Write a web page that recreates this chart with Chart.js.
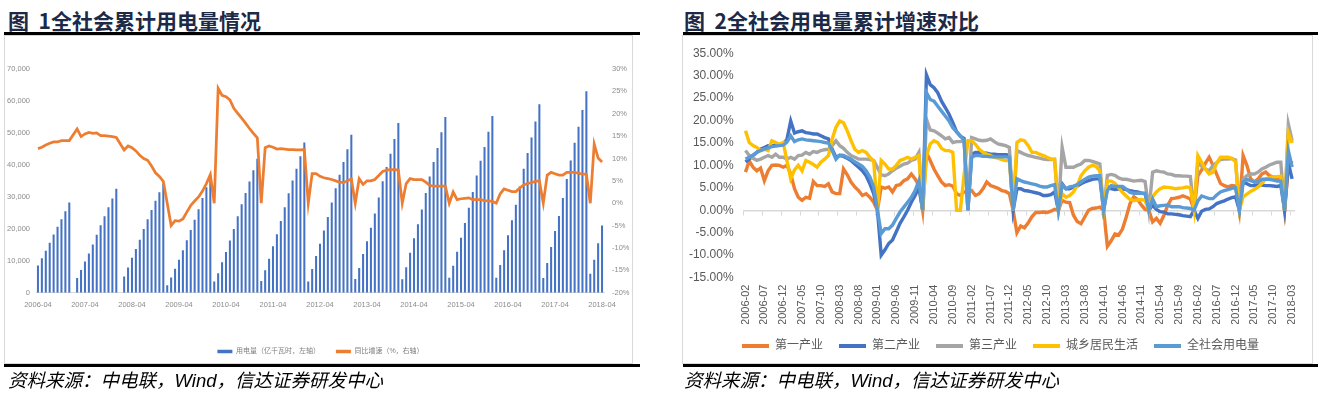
<!DOCTYPE html>
<html>
<head>
<meta charset="utf-8">
<script src="https://cdn.jsdelivr.net/npm/chart.js@4.4.1/dist/chart.umd.min.js"></script>
<style>
  body { margin: 0; width: 1321px; height: 395px; background: #fff; position: relative; overflow: hidden; }
  .title { position: absolute; top: 5px; font-family: "Noto Sans CJK SC", sans-serif; font-weight: 700; font-size: 21px; color: #1c2a48; white-space: nowrap; }
  .rule { position: absolute; height: 3px; background: #000; z-index: 3; }
  .box { position: absolute; border: 1px solid #d9d9d9; box-sizing: border-box; }
  .src { position: absolute; top: 366px; font-family: "Liberation Sans", "Noto Sans CJK SC", sans-serif; font-style: italic; font-size: 18.5px; color: #000; white-space: nowrap; z-index: 3; }
  .wrap { position: absolute; z-index: 2; }
</style>
</head>
<body>
<div class="title" style="left:8px">图&nbsp;&nbsp;1全社会累计用电量情况</div>
<div class="title" style="left:684px">图&nbsp;&nbsp;2全社会用电量累计增速对比</div>
<div class="rule" style="left:4px; width:636px; top:32px"></div>
<div class="rule" style="left:683px; width:635px; top:32px"></div>
<div class="box" style="left:4px; top:35px; width:629px; height:329px"></div>
<div class="box" style="left:682px; top:35px; width:631px; height:329px"></div>
<div class="rule" style="left:4px; width:636px; top:364px"></div>
<div class="rule" style="left:683px; width:635px; top:364px"></div>
<div class="src" style="left:8px">资料来源：中电联，Wind，信达证券研发中心</div>
<div class="src" style="left:684px">资料来源：中电联，Wind，信达证券研发中心</div>

<div class="wrap" style="left:5px; top:38px; width:631px; height:333px"><canvas id="useChart"></canvas></div>
<div class="wrap" style="left:682px; top:36px; width:637px; height:331px"><canvas id="growthChart"></canvas></div>

<script>
// 图1：累计用电量（亿千瓦时）与同比增速（%），2006-04 ~ 2018-04
const usage = [
  8500, 10800, 13100, 15600, 18200, 20600, 23000, 25500, 28200,
  null, 4600, 7100, 9800, 12300, 15100, 18100, 21100, 23900, 26700, 29500, 32500,
  null, 5100, 7900, 10900, 13700, 16600, 19900, 23000, 25900, 28800, 31400, 34200,
  2300, 4750, 7500, 10300, 13300, 16400, 19600, 22800, 26100, 29600, 33000, 36400,
  3500, 6100, 9500, 12700, 16300, 19900, 23900, 27700, 31200, 34800, 38300, 41900,
  3700, 7000, 10600, 14500, 18300, 22400, 26700, 31100, 35100, 38800, 42700, 47000,
  3500, 7400, 11500, 15300, 19500, 23700, 28200, 32700, 36900, 40900, 44900, 49400,
  4300, 7700, 12100, 16100, 20300, 24800, 29800, 34900, 39300, 43500, 48100, 53100,
  4200, 8000, 12500, 17000, 21400, 26000, 31200, 36400, 40900, 45300, 50200, 55000,
  4700, 8400, 12800, 17200, 21800, 26600, 31500, 36700, 41300, 45600, 50400, 55300,
  4700, 8700, 13300, 18000, 22700, 27500, 33200, 38800, 43700, 48600, 53600, 59000,
  4600, 9300, 14300, 19300, 24000, 29600, 35600, 41400, 46900, 51900, 57200, 63000,
  5900, 10300, 15500, 21000
];
const usageGrowth = [
  12.2, 12.5, 13.0, 13.4, 13.7, 13.7, 14.0, 14.0, 14.0,
  null, 16.6, 14.9, 15.5, 15.8, 15.6, 15.7, 15.1, 15.1, 15.0, 14.9, 14.7,
  null, 11.9, 12.8, 12.4, 11.7, 10.7, 10.0, 9.6, 8.3, 6.8, 6.0, 4.9,
  0, -5.0, -3.9, -4.0, -3.5, -2.0, -0.5, 0.5, 1.4, 2.7, 4.4, 6.4,
  0, 25.7, 24.1, 23.8, 23.1, 21.2, 20.1, 19.0, 17.9, 16.7, 15.6, 14.6,
  0, 12.4, 12.8, 12.5, 12.1, 12.2, 12.1, 12.0, 12.0, 11.9, 11.9, 12.0,
  0, 6.6, 6.6, 6.0, 5.7, 5.5, 5.3, 5.0, 4.7, 4.6, 5.0, 5.4,
  0, 5.5, 4.2, 5.0, 5.0, 5.3, 6.2, 7.1, 7.4, 7.5, 7.5, 7.4,
  0, 4.4, 5.5, 5.3, 5.3, 5.3, 4.7, 4.0, 3.8, 3.8, 3.8, 3.8,
  0, 2.5, 0.8, 1.0, 1.1, 1.2, 0.8, 0.8, 0.8, 0.6, 0.5, 0.4,
  0, 2.1, 3.2, 2.9, 2.6, 2.6, 3.4, 4.1, 4.4, 4.6, 4.9, 5.0,
  0, 6.3, 6.9, 6.6, 6.3, 6.3, 6.9, 6.9, 6.9, 6.7, 6.5, 6.5,
  0, 13.2, 10.1, 9.2
];

// 图2：各产业累计增速（%），2006-02 ~ 2018-03
const primary = [
  8.5, 11.0, 9.6, 8.8, 9.4, 6.6, 8.8, 10.0, 10.1, 10.0, 9.6,
  10.0, 8.1, 4.8, 2.9, 2.2, 2.9, 2.7, 6.4, 5.5, 5.5, 5.3, 5.9,
  4.1, 3.7, 3.7, 9.2, 7.9, 6.3, 5.2, 4.4, 3.3, 3.7, 2.9, 1.8,
  0, 5.2, 4.9, 5.2, 4.1, 5.5, 5.7, 6.6, 7.0, 8.1, 7.0, 5.5,
  0, 12.9, 11.1, 9.2, 7.7, 6.3, 5.5, 5.7, 5.4, 3.7, 3.3, 4.1,
  4.1, 4.4, 3.3, 3.7, 4.8, 6.3, 5.5, 5.2, 4.9, 4.4, 4.2, 3.7,
  0, -5.0, -3.5, -3.9, -2.8, -1.4, -0.5, -0.5, -0.4, -0.5, -0.2, 0.2,
  0, 2.2, 1.8, 1.7, -1.1, -2.5, -3.0, -1.5, 0.0, 0.4, 0.5, 0.7,
  0, -8.0, -6.8, -5.3, -5.5, -4.2, -1.5, 1.5, 3.0, 2.4, 1.2, 0.2,
  0, -2.6, -1.8, -2.9, -1.1, 1.1, 2.6, 2.7, 2.9, 3.2, 2.9, 2.5,
  0, 7.7, 9.0, 10.5, 11.8, 10.0, 8.0, 6.0, 5.5, 5.2, 5.5, 5.4,
  0, 12.2, 10.0, 7.0, 6.3, 7.0, 8.1, 8.5, 7.7, 7.4, 7.0, 7.3,
  0, 9.5, 11.0
];
const secondary = [
  10.8, 11.4, 12.2, 12.9, 13.6, 14.0, 14.4, 14.4, 14.5, 14.6, 14.7,
  15.8, 19.9, 17.2, 17.5, 17.7, 17.3, 17.2, 17.0, 17.0, 16.6, 16.2, 15.9,
  13.6, 11.8, 12.2, 12.0, 11.6, 11.1, 10.3, 9.6, 8.8, 7.7, 5.9, 3.7,
  0, -10.0, -8.8, -7.4, -6.6, -4.8, -2.9, -1.5, 0, 1.8, 3.3, 5.2,
  0, 30.2, 28.0, 27.3, 26.2, 24.3, 22.9, 21.4, 19.5, 17.5, 16.5, 16.0,
  0, 12.5, 12.9, 12.9, 12.8, 12.7, 12.5, 12.5, 12.4, 12.4, 12.4, 12.3,
  0, 4.8, 4.8, 4.4, 4.3, 4.1, 3.9, 3.7, 3.3, 3.3, 3.5, 4.1,
  0, 5.9, 4.8, 4.8, 5.2, 5.4, 5.9, 6.3, 6.6, 6.9, 7.0, 7.0,
  0, 5.3, 4.8, 4.6, 4.7, 4.8, 4.6, 4.4, 4.2, 4.1, 3.8, 3.7,
  0, 1.1, 0.2, -0.3, -0.4, -0.8, -0.8, -0.9, -1.0, -1.2, -1.3, -1.4,
  0, -1.8, -0.2, 0.2, 0.3, 0.8, 1.5, 1.8, 2.1, 2.5, 2.8, 3.0,
  0, 6.3, 5.9, 5.5, 5.5, 5.7, 5.6, 5.5, 5.5, 5.4, 5.3, 5.5,
  0, 10.5, 7.0
];
const tertiary = [
  13.3, 12.2, 11.6, 11.1, 11.4, 11.8, 12.2, 11.8, 12.5, 11.8, 11.8,
  11.4, 11.8, 11.4, 12.2, 12.3, 12.9, 12.5, 13.1, 12.9, 13.3, 13.5, 13.6,
  14.4, 15.5, 14.4, 13.8, 12.9, 12.2, 11.8, 11.4, 11.4, 11.4, 11.3, 11.1,
  9.5, 7.9, 7.7, 8.1, 8.8, 9.4, 9.8, 10.3, 10.5, 11.1, 11.4, 12.9,
  0, 20.3, 17.9, 17.7, 17.2, 16.6, 15.9, 16.2, 15.1, 15.3, 15.3, 15.5,
  0, 16.2, 15.9, 15.6, 15.5, 15.6, 15.9, 15.3, 14.8, 14.6, 14.4, 14.0,
  0, 13.3, 12.9, 12.5, 12.2, 12.0, 11.8, 11.6, 11.4, 11.3, 11.3, 11.3,
  0, 14.0, 9.6, 9.6, 9.6, 10.0, 10.3, 11.1, 11.1, 10.9, 10.6, 10.3,
  0, 7.8, 8.0, 7.8, 7.2, 6.9, 6.9, 6.7, 6.5, 6.6, 6.7, 6.4,
  0, 8.5, 8.8, 8.6, 8.5, 8.1, 8.0, 7.7, 7.7, 7.6, 7.6, 7.5,
  0, 10.7, 9.8, 9.2, 8.8, 10.0, 10.6, 11.3, 11.4, 11.4, 11.5, 11.2,
  0, 7.0, 7.7, 8.1, 8.1, 8.5, 9.2, 9.6, 10.1, 10.4, 10.7, 10.7,
  0, 19.2, 15.5
];
const residential = [
  17.7, 15.1, 14.4, 14.0, 13.3, 13.6, 13.3, 15.5, 15.1, 14.7, 15.1,
  11.0, 7.0, 9.0, 10.0, 8.8, 11.1, 10.7, 10.2, 9.6, 10.7, 11.4, 12.2,
  15.9, 18.5, 19.9, 19.5, 17.7, 15.5, 13.6, 12.9, 13.3, 12.9, 11.8, 11.0,
  0, 11.1, 10.3, 9.2, 9.2, 10.0, 11.1, 11.4, 11.8, 11.4, 11.8, 12.2,
  0, 12.0, 14.8, 15.5, 15.1, 13.8, 13.3, 13.3, 12.9, 0, 0, 8.0,
  15.5, 15.5, 14.7, 13.6, 12.9, 12.5, 12.2, 11.8, 11.6, 11.3, 11.1, 11.1,
  0, 15.1, 15.7, 15.5, 14.4, 12.9, 12.9, 12.5, 12.2, 11.8, 11.4, 11.4,
  0, 3.7, 2.9, 3.3, 4.1, 5.5, 7.7, 8.8, 9.6, 10.0, 9.8, 8.8,
  0, 6.5, 6.5, 6.0, 5.0, 4.0, 3.2, 2.4, 2.2, 2.3, 2.4, 2.2,
  0, 3.0, 4.1, 4.8, 5.2, 5.1, 5.0, 4.8, 4.9, 5.0, 5.2, 5.0,
  0, 12.2, 10.7, 9.2, 8.1, 8.5, 10.5, 11.8, 11.8, 11.8, 11.6, 10.8,
  0, 3.0, 3.6, 4.2, 4.7, 5.2, 6.0, 7.0, 7.3, 7.5, 7.5, 7.6,
  0, 17.3, 15.0
];
const total = [
  11.4, 11.8, 12.3, 12.9, 13.3, 13.6, 13.9, 14.2, 14.3, 14.4, 14.5,
  15.2, 16.6, 15.3, 15.7, 15.9, 15.7, 15.6, 15.5, 15.4, 15.3, 15.1, 15.0,
  13.3, 11.4, 12.3, 12.2, 11.8, 11.4, 10.8, 10.3, 9.8, 8.8, 7.4, 5.2,
  0, -5.2, -4.1, -4.1, -3.3, -1.8, -0.4, 0.7, 1.8, 2.9, 4.4, 6.6,
  0, 26.2, 24.7, 24.3, 23.2, 22.1, 21.0, 19.9, 18.4, 17.5, 16.6, 15.5,
  0, 11.8, 12.2, 12.2, 12.0, 12.0, 11.9, 11.9, 11.9, 11.9, 11.9, 11.8,
  0, 7.0, 6.6, 6.3, 6.1, 5.9, 5.7, 5.4, 5.2, 5.2, 5.5, 5.7,
  0, 5.7, 4.8, 5.2, 5.4, 5.7, 6.3, 6.9, 7.4, 7.6, 7.7, 7.7,
  0, 4.4, 5.5, 5.3, 5.3, 5.3, 4.7, 4.0, 3.8, 3.8, 3.8, 3.8,
  0, 2.5, 0.8, 1.0, 1.1, 1.2, 0.8, 0.8, 0.8, 0.6, 0.5, 0.4,
  0, 2.1, 3.2, 2.9, 2.6, 2.6, 3.4, 4.1, 4.4, 4.6, 4.9, 5.0,
  0, 6.3, 6.9, 6.6, 6.3, 6.3, 6.9, 6.9, 6.9, 6.7, 6.5, 6.5,
  0, 13.3, 9.6
];

const seriesNames = ['第一产业', '第二产业', '第三产业', '城乡居民生活', '全社会用电量'];
const seriesColors = ['#ed7d31', '#4472c4', '#a5a5a5', '#ffc000', '#5b9bd5'];
const leftTicks = [0, 10000, 20000, 30000, 40000, 50000, 60000, 70000];
const rightTicks = [-20, -15, -10, -5, 0, 5, 10, 15, 20, 25, 30];
const pctTicks = [-15, -10, -5, 0, 5, 10, 15, 20, 25, 30, 35];

// 月份标签
function monthRange(y, m, yEnd, mEnd) {
  const out = [];
  while (y < yEnd || (y === yEnd && m <= mEnd)) {
    out.push(y + '-' + String(m).padStart(2, '0'));
    m++;
    if (m > 12) { m = 1; y++; }
  }
  return out;
}
const usageMonths = monthRange(2006, 4, 2018, 4);
const growthMonths = monthRange(2006, 2, 2018, 3);

Chart.defaults.font.family = '"Liberation Sans", "Noto Sans CJK SC", sans-serif';
Chart.defaults.animation = false;

// 图例色块只要填充，不要描边
const flatLabels = chart =>
  Chart.defaults.plugins.legend.labels.generateLabels(chart).map(l => ({ ...l, lineWidth: 0 }));

new Chart(document.getElementById('useChart'), {
  type: 'bar',
  data: {
    labels: usageMonths,
    datasets: [{
      type: 'bar',
      label: '用电量（亿千瓦时，左轴）',
      data: usage,
      yAxisID: 'y',
      backgroundColor: '#4472c4',
      barPercentage: 0.52,
      categoryPercentage: 1,
      order: 1
    }, {
      type: 'line',
      label: '同比增速（%，右轴）',
      data: usageGrowth,
      yAxisID: 'y1',
      borderColor: '#ed7d31',
      backgroundColor: '#ed7d31',
      borderWidth: 2.75,
      pointRadius: 0,
      spanGaps: true,
      order: 0
    }]
  },
  options: {
    responsive: true,
    maintainAspectRatio: false,
    layout: { padding: { left: 0, right: 0, top: 31, bottom: 6 } },
    plugins: {
      tooltip: { enabled: false },
      legend: {
        position: 'bottom',
        labels: {
          boxWidth: 15, boxHeight: 3.5, padding: 16,
          font: { size: 7 }, color: '#7f7f7f',
          generateLabels: flatLabels,
          sort: (a, b) => a.datasetIndex - b.datasetIndex
        }
      }
    },
    scales: {
      x: {
        grid: { display: false, drawTicks: false },
        border: { display: true, color: '#d9d9d9' },
        ticks: {
          autoSkip: false, maxRotation: 0, minRotation: 0, padding: 8,
          font: { size: 7.5 }, color: '#8c8c8c',
          callback: function (v, i) { return i % 12 === 0 ? this.getLabelForValue(v) : null; }
        },
        afterFit: s => { s.height = 39.3; }
      },
      y: {
        min: 0, max: 70000,
        grid: { display: false, drawTicks: false },
        border: { display: false },
        afterBuildTicks: s => { s.ticks = leftTicks.map(v => ({ value: v })); },
        ticks: { font: { size: 7.5 }, color: '#8c8c8c', padding: 6,
                 callback: v => v.toLocaleString('en-US') },
        afterFit: s => { s.width = 31; }
      },
      y1: {
        position: 'right',
        min: -20, max: 30,
        grid: { display: false, drawTicks: false },
        border: { display: false },
        afterBuildTicks: s => { s.ticks = rightTicks.map(v => ({ value: v })); },
        ticks: { font: { size: 7.5 }, color: '#8c8c8c', padding: 8,
                 callback: v => v + '%' },
        afterFit: s => { s.width = 32; }
      }
    }
  }
});

new Chart(document.getElementById('growthChart'), {
  type: 'line',
  data: {
    labels: growthMonths,
    datasets: [primary, secondary, tertiary, residential, total].map((d, i) => ({
      label: seriesNames[i],
      data: d,
      borderColor: seriesColors[i],
      backgroundColor: seriesColors[i],
      borderWidth: 3.4,
      pointRadius: 0,
      tension: 0,
      order: 4 - i
    }))
  },
  options: {
    responsive: true,
    maintainAspectRatio: false,
    layout: { padding: { left: 0, right: 0, top: 14, bottom: 5 } },
    plugins: {
      tooltip: { enabled: false },
      legend: {
        position: 'bottom',
        labels: {
          boxWidth: 27, boxHeight: 4, padding: 16,
          font: { size: 12 }, color: '#595959',
          generateLabels: flatLabels,
          sort: (a, b) => a.datasetIndex - b.datasetIndex
        }
      }
    },
    scales: {
      x: {
        offset: true,
        grid: { display: false, drawTicks: false },
        border: { display: false },
        ticks: {
          autoSkip: false, maxRotation: 90, minRotation: 90, padding: 7,
          font: { size: 11 }, color: '#595959',
          callback: function (v, i) { return i % 5 === 0 ? this.getLabelForValue(v) : null; }
        },
        afterFit: s => { s.height = 46.4; }
      },
      x0: {
        type: 'category',
        axis: 'x',
        labels: growthMonths,
        position: { y: 0 },
        offset: true,
        grid: {
          display: true, drawOnChartArea: false, drawTicks: true, tickLength: 4, offset: true,
          color: c => (c.index % 5 === 0 ? '#d9d9d9' : 'rgba(0,0,0,0)')
        },
        border: { display: true, color: '#d9d9d9', width: 1.5 },
        ticks: { display: false, autoSkip: false }
      },
      y: {
        min: -15, max: 35,
        grid: { display: false, drawTicks: false },
        border: { display: false },
        afterBuildTicks: s => { s.ticks = pctTicks.map(v => ({ value: v })); },
        ticks: { font: { size: 12 }, color: '#595959', padding: 10,
                 callback: v => v.toFixed(2) + '%' },
        afterFit: s => { s.width = 61.6; }
      },
      // 右侧留白
      yPad: {
        position: 'right',
        grid: { display: false, drawTicks: false },
        border: { display: false },
        ticks: { display: false },
        afterFit: s => { s.width = 25; }
      }
    }
  }
});
</script>
</body>
</html>
